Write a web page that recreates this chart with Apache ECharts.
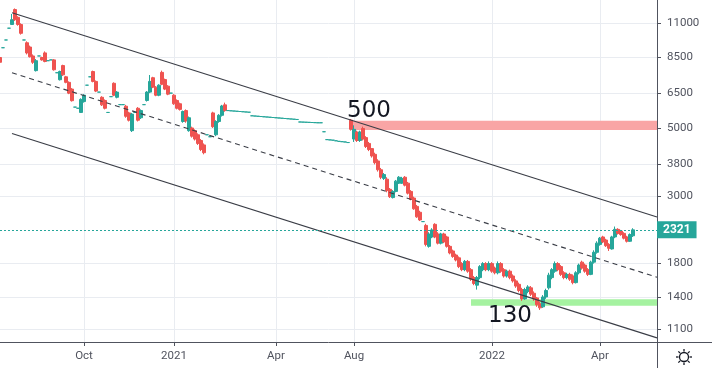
<!DOCTYPE html>
<html><head><meta charset="utf-8">
<script src="https://cdn.jsdelivr.net/npm/echarts@6/dist/echarts.min.js"></script>
<style>html,body{margin:0;padding:0;background:#fff}#c{width:712px;height:368px}</style>
</head><body><div id="c"></div>
<script>
// [open, close, low, high] per bar
const candles = [
[8500,8200,8150,8550],[9150,9150,9150,9150],[9700,9700,9700,9700],[10600,10600,10600,10600],[10900,11300,10900,11800],
[12200,11300,11200,12300],[11500,10900,10800,11600],[10900,10200,10100,11000],[9700,9700,9700,9700],[9500,8800,8700,9600],
[9200,8550,8500,9300],[8600,8200,8100,8700],[7700,8300,7650,8400],[8600,8600,8600,8600],[8500,8350,8300,8550],
[8800,8250,8200,8900],[8300,8300,8300,8300],[8350,8350,8350,8350],[8350,7750,7700,8400],[7580,7580,7580,7580],
[7190,7650,7150,7700],[8000,7460,7400,8050],[7350,7050,7000,7400],[7050,6500,6450,7100],[6700,6140,6100,6750],
[5850,5850,5850,5850],[5800,5800,5800,5800],[5620,6200,5600,6250],[6100,6400,6050,6450],[6900,6900,6900,6900],
[7350,7350,7350,7350],[7650,7100,7050,7700],[7100,6600,6550,7150],[6550,6550,6550,6550],[6300,5950,5900,6350],
[6150,5800,5750,6200],[5620,5620,5620,5620],[6330,6330,6330,6330],[7000,6400,6350,7050],[6300,6550,6250,6600],
[5960,5960,5960,5960],[5960,5960,5960,5960],[5890,5460,5400,5950],[5600,5300,5250,5650],[4900,5550,4850,5600],
[5620,5620,5620,5620],[5800,5300,5250,5850],[5400,5700,5350,5750],[5960,5960,5960,5960],[6150,6550,6100,6600],
[6550,7100,6500,7450],[7300,6800,6750,7350],[6800,6400,6350,6850],[6400,6900,6350,6950],[7600,6950,6900,7700],
[7200,6700,6650,7250],[6850,6450,6400,6900],[6500,6500,6500,6500],[6400,6000,5950,6450],[6150,5800,5750,6200],
[6000,5750,5700,6050],[5250,5660,5200,5700],[5700,5270,5200,5750],[4900,5400,4860,5450],[5000,4700,4650,5050],
[4900,4600,4550,4950],[4750,4450,4400,4800],[4550,4250,4200,4600],[4400,4150,4100,4450],[4750,4750,4750,4750],
[4680,4680,4680,4680],[5600,5050,5000,5650],[4750,5250,4700,5300],[5250,5500,5200,5550],[5500,5900,5450,5950],
[5950,5700,5650,6050],
[5700,5700,5700,5700],[5690,5690,5690,5690],[5680,5680,5680,5680],[5670,5670,5670,5670],[5660,5660,5660,5660],
[5650,5650,5650,5650],[5640,5640,5640,5640],[5630,5630,5630,5630],[5480,5480,5480,5480],[5470,5470,5470,5470],
[5460,5460,5460,5460],[5450,5450,5450,5450],[5440,5440,5440,5440],[5430,5430,5430,5430],[5420,5420,5420,5420],
[5410,5410,5410,5410],[5400,5400,5400,5400],[5390,5390,5390,5390],[5380,5380,5380,5380],[5370,5370,5370,5370],
[5360,5360,5360,5360],[5350,5350,5350,5350],[5340,5340,5340,5340],[5330,5330,5330,5330],[5230,5230,5230,5230],
[5225,5225,5225,5225],[5220,5220,5220,5220],[5215,5215,5215,5215],[5210,5210,5210,5210],[5205,5205,5205,5205],
[5200,5200,5200,5200],[5200,5200,5200,5200],[4860,4860,4860,4860],[4580,4580,4580,4580],[4570,4570,4570,4570],
[4560,4560,4560,4560],[4540,4540,4540,4540],[4520,4520,4520,4520],[4510,4510,4510,4510],[4500,4500,4500,4500],
[4480,4480,4480,4480],
[5300,4950,4900,5350],[4600,4950,4500,5100],[4850,4550,4500,4900],[4550,4850,4500,4900],[4980,4600,4550,5050],
[4650,4350,4300,4700],[4450,4250,4200,4500],[4280,4050,4000,4300],[4100,3850,3800,4150],[3900,3650,3600,3950],
[3650,3450,3400,3700],[3420,3520,3380,3560],[3400,3120,3080,3450],[3150,2980,2950,3180],[2960,3100,2940,3130],
[3100,3350,3080,3380],[3300,3450,3280,3480],[3300,3420,3280,3460],[3450,3250,3220,3480],[3300,3060,3030,3330],
[3100,2920,2900,3130],[2950,2720,2700,2980],[2770,2560,2540,2800],[2650,2500,2480,2680],[2470,2470,2470,2470],
[2400,2080,2050,2430],[2050,2250,2030,2280],[2200,2320,2180,2350],[2420,2200,2180,2440],[2250,2100,2080,2280],
[2100,2250,2080,2270],[2250,2120,2100,2270],[2200,2050,2030,2220],[2050,1950,1930,2070],[1980,1900,1880,2000],
[1920,1850,1830,1940],[1880,1760,1740,1900],[1800,1720,1700,1820],[1720,1830,1700,1850],[1830,1700,1680,1850],
[1720,1600,1580,1740],[1620,1550,1530,1640],[1530,1620,1480,1640],[1620,1760,1600,1780],[1720,1800,1700,1820],
[1800,1720,1700,1820],[1720,1800,1700,1830],[1800,1700,1680,1820],[1740,1680,1660,1760],[1680,1800,1660,1830],
[1800,1700,1680,1820],[1720,1640,1620,1740],[1640,1700,1620,1720],[1700,1620,1600,1720],[1640,1580,1560,1660],
[1580,1520,1500,1600],[1540,1470,1450,1560],[1480,1380,1360,1500],[1380,1480,1370,1500],[1460,1510,1440,1530],
[1500,1430,1410,1520],[1440,1380,1360,1460],[1390,1320,1300,1400],[1330,1290,1270,1350],[1300,1400,1290,1420],
[1400,1470,1380,1490],[1500,1650,1480,1680],[1620,1720,1600,1740],[1700,1800,1680,1830],[1800,1720,1700,1820],
[1760,1660,1640,1780],[1680,1620,1600,1700],[1620,1660,1600,1680],[1660,1600,1580,1680],[1640,1560,1540,1660],
[1560,1680,1550,1700],[1680,1780,1660,1800],[1820,1740,1720,1840],[1780,1700,1680,1800],[1720,1660,1640,1740],
[1660,1820,1650,1840],[1820,1960,1800,1990],[1960,2100,1940,2130],[2080,2180,2060,2200],[2200,2120,2100,2220],
[2150,2060,2040,2170],[2080,2020,1980,2100],[2010,2200,2000,2220],[2200,2330,2180,2380],[2330,2260,2240,2350],
[2300,2240,2220,2320],[2260,2180,2160,2280],[2200,2130,2110,2220],[2130,2240,2120,2260],[2220,2321,2200,2350]
];
const nCategories = 220;
const xTickIndex = [28, 58, 92, 118, 164, 200];
const xTickText = ['Oct', '2021', 'Apr', 'Aug', '2022', 'Apr'];
const yTicks = [1100, 1400, 1800, 3000, 3800, 5000, 6500, 8500, 11000];
const yRange = [997.4, 13108];
const lastPrice = 2321;
const channelUpper = [[4, 11900], [219, 2556]];
const channelMid = [[4, 7575], [219, 1624]];
const channelLower = [[4, 4799], [219, 1029]];
const resistanceZone = [117, 219, 4923, 5280];
const supportZone = [157, 219, 1311, 1375];
const noteTexts = ['500', '130'];
const noteCoords = [[123, 5700], [170, 1210]];

const UP = '#26a69a', DOWN = '#ef5350', AXIS = '#50535e', GRID = '#e9ecf1', LINE = '#3a3d46';
const categories = Array.from({length: nCategories}, (_, i) => String(i));
const tickMap = {};
xTickIndex.forEach((ix, k) => { tickMap[ix] = xTickText[k]; });
const isTick = (idx) => tickMap[idx] !== undefined;

const chart = echarts.init(document.getElementById('c'), null, {renderer: 'canvas'});

const gear = [];
for (let k = 0; k < 8; k++) {
  const a = k * Math.PI / 4;
  gear.push({type: 'line', shape: {x1: 684 + Math.cos(a) * 5.5, y1: 357 + Math.sin(a) * 5.5, x2: 684 + Math.cos(a) * 8, y2: 357 + Math.sin(a) * 8},
    style: {stroke: '#131722', lineWidth: 1.3}});
}
gear.push({type: 'circle', shape: {cx: 684, cy: 357, r: 4.5}, style: {stroke: '#131722', fill: '#fff', lineWidth: 1.3}});

const lineSeries = (d, dashed) => ({
  type: 'line', data: d, showSymbol: false, symbol: 'none', silent: true, z: 3,
  lineStyle: {color: LINE, width: 1.1, type: dashed ? [5, 4] : 'solid'}
});

chart.setOption({
  animation: false,
  backgroundColor: '#fff',
  grid: {left: 0, right: 55, top: 0, bottom: 26, containLabel: false},
  xAxis: {
    type: 'category', data: categories, boundaryGap: false,
    axisLine: {show: true, lineStyle: {color: AXIS, width: 1}},
    axisTick: {show: true, interval: (i) => isTick(i), length: 4, lineStyle: {color: AXIS}},
    axisLabel: {interval: (i) => isTick(i), formatter: (v, i) => tickMap[i] || '', margin: 8,
      color: AXIS, fontSize: 11.5, fontFamily: 'Roboto, sans-serif'},
    splitLine: {show: true, interval: (i) => isTick(i), lineStyle: {color: GRID, width: 1}}
  },
  yAxis: {
    type: 'log', position: 'right', min: yRange[0], max: yRange[1],
    axisLine: {show: true, lineStyle: {color: AXIS, width: 1}},
    axisTick: {show: true, customValues: yTicks, length: 4, lineStyle: {color: AXIS}},
    axisLabel: {customValues: yTicks, formatter: (v) => String(Math.round(v)), margin: 10,
      color: AXIS, fontSize: 11.5, fontFamily: 'Roboto, sans-serif'},
    splitLine: {show: true, lineStyle: {color: GRID, width: 1}}
  },
  graphic: [
    {type: 'line', shape: {x1: 657.5, y1: 342, x2: 657.5, y2: 368}, style: {stroke: AXIS, lineWidth: 1}},
    {type: 'line', shape: {x1: 657, y1: 342.5, x2: 712, y2: 342.5}, style: {stroke: AXIS, lineWidth: 1}},
    {type: 'group', children: gear}
  ],
  series: [
    {
      type: 'candlestick', data: candles, barWidth: 2.8, clip: false, z: 2,
      itemStyle: {color: UP, color0: DOWN, borderColor: UP, borderColor0: DOWN, borderColorDoji: UP, borderWidth: 1},
      markArea: {
        silent: true,
        data: [
          [{xAxis: resistanceZone[0], yAxis: resistanceZone[3], itemStyle: {color: '#f9a5a5'}}, {xAxis: resistanceZone[1], yAxis: resistanceZone[2]}],
          [{xAxis: supportZone[0], yAxis: supportZone[3], itemStyle: {color: '#a5f2a0'}}, {xAxis: supportZone[1], yAxis: supportZone[2]}]
        ]
      },
      markLine: {
        silent: true, symbol: ['none', 'none'],
        lineStyle: {color: UP, width: 1, type: [2, 2]},
        label: {show: true, position: 'end', distance: 0, formatter: String(lastPrice), backgroundColor: UP, color: '#fff',
          fontWeight: 'bold', fontSize: 12, fontFamily: 'Roboto, sans-serif', padding: [3, 6, 2, 6]},
        data: [{yAxis: lastPrice}]
      },
      markPoint: {
        silent: true, symbol: 'circle', symbolSize: 0,
        label: {show: true, position: 'inside', formatter: (p) => p.name, color: '#131722', fontSize: 23, fontFamily: 'DejaVu Sans, sans-serif'},
        data: noteTexts.map((t, k) => ({name: t, coord: noteCoords[k]}))
      }
    },
    lineSeries(channelUpper, false),
    lineSeries(channelMid, true),
    lineSeries(channelLower, false)
  ]
});
</script>
</body></html>
